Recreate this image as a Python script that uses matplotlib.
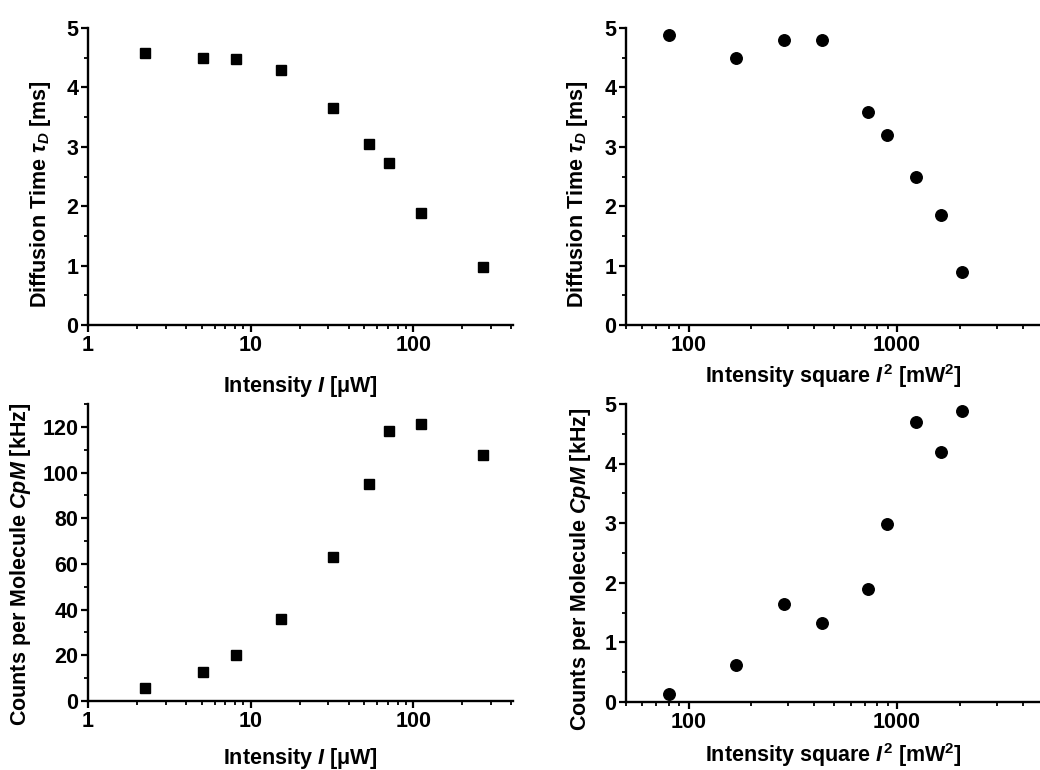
import matplotlib
matplotlib.use("Agg")
import matplotlib.pyplot as plt
from matplotlib.ticker import MultipleLocator, FuncFormatter, LogLocator, NullFormatter

plt.rcParams['font.family'] = ['Liberation Sans', 'DejaVu Sans']
plt.rcParams['font.weight'] = 'bold'
plt.rcParams['mathtext.fontset'] = 'custom'
plt.rcParams['mathtext.rm'] = 'Liberation Sans:bold'
plt.rcParams['mathtext.it'] = 'Liberation Sans:bold:italic'
plt.rcParams['mathtext.bf'] = 'Liberation Sans:bold'

# laser intensity (uW) and results, left column
intensity = [2.24, 5.1, 8.1, 15.4, 32.2, 53.6, 71.2, 112, 270]
tau_d_left = [4.58, 4.50, 4.47, 4.30, 3.66, 3.05, 2.72, 1.88, 0.97]
cpm_left = [5.6, 12.6, 20.2, 35.7, 62.9, 95.0, 118.1, 121.2, 107.6]

# intensity square (mW^2), right column
intensity_sq = [80, 168, 288, 438, 726, 899, 1230, 1622, 2055]
tau_d_right = [4.89, 4.49, 4.79, 4.79, 3.59, 3.20, 2.50, 1.85, 0.89]
cpm_right = [0.14, 0.62, 1.64, 1.33, 1.89, 2.99, 4.69, 4.19, 4.89]

FS = 15.5
W, H = 1040, 770
fig = plt.figure(figsize=(W / 100, H / 100), dpi=100)


def make_ax(x0, x1, ytop, ybot):
    return fig.add_axes([x0 / W, 1 - ybot / H, (x1 - x0) / W, (ybot - ytop) / H])


def style(ax, xlim, ylim, ymajor, yminor, xlabel, ylabel, xl_y, yl_xy):
    ax.set_xscale('log')
    ax.set_xlim(*xlim)
    ax.set_ylim(*ylim)
    for s in ('top', 'right'):
        ax.spines[s].set_visible(False)
    for s in ('left', 'bottom'):
        ax.spines[s].set_linewidth(1.7)
    ax.xaxis.set_major_locator(LogLocator(base=10, numticks=10))
    ax.xaxis.set_minor_locator(LogLocator(base=10, subs=range(2, 10), numticks=20))
    ax.xaxis.set_major_formatter(FuncFormatter(lambda v, p: f'{v:g}'))
    ax.xaxis.set_minor_formatter(NullFormatter())
    ax.yaxis.set_major_locator(MultipleLocator(ymajor))
    ax.yaxis.set_minor_locator(MultipleLocator(yminor))
    ax.tick_params(which='major', length=5, width=1.6, labelsize=FS, pad=2)
    ax.tick_params(which='minor', length=3, width=1.3)
    for lab in ax.get_xticklabels() + ax.get_yticklabels():
        lab.set_fontweight('bold')
    ax.set_xlabel(xlabel, fontsize=FS, fontweight='bold')
    ax.set_ylabel(ylabel, fontsize=FS, fontweight='bold')
    ax.xaxis.set_label_coords(0.5, xl_y)
    ax.yaxis.set_label_coords(*yl_xy)


ax1 = make_ax(88, 513, 28, 325)
ax1.plot(intensity, tau_d_left, 's', color='black', markersize=7.5)
style(ax1, (1, 410), (0, 5), 1, 0.5,
      r'Intensity $I$ [μW]', r'Diffusion Time $\tau_D$ [ms]',
      -0.165, (-0.082, 0.441))

ax2 = make_ax(626, 1040, 28, 325)
ax2.plot(intensity_sq, tau_d_right, 'o', color='black', markersize=8.3)
style(ax2, (50, 4850), (0, 5), 1, 0.5,
      r'Intensity square $I^2$ [mW$^2$]', r'Diffusion Time $\tau_D$ [ms]',
      -0.125, (-0.087, 0.441))

ax3 = make_ax(88, 513, 404, 701)
ax3.plot(intensity, cpm_left, 's', color='black', markersize=7.5)
style(ax3, (1, 410), (0, 130), 20, 10,
      r'Intensity $I$ [μW]', r'Counts per Molecule $CpM$ [kHz]',
      -0.15, (-0.129, 0.461))

ax4 = make_ax(626, 1040, 404, 702)
ax4.plot(intensity_sq, cpm_right, 'o', color='black', markersize=8.3)
style(ax4, (50, 4850), (0, 5), 1, 0.5,
      r'Intensity square $I^2$ [mW$^2$]', r'Counts per Molecule $CpM$ [kHz]',
      -0.13, (-0.080, 0.446))

for ax in (ax1, ax2, ax3, ax4):
    for ln in ax.lines:
        ln.set_clip_on(False)

fig.savefig('out.png', dpi=100)
